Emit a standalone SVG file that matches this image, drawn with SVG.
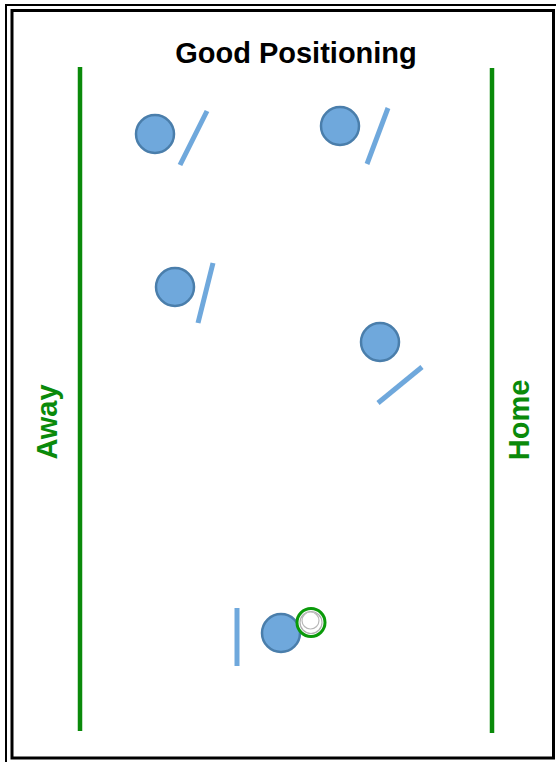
<svg xmlns="http://www.w3.org/2000/svg" width="556" height="762" viewBox="0 0 556 762">
<style>
.player{fill:#6fa8dc;stroke:#4a7eab;stroke-width:2.5}
.stick{stroke:#6fa8dc;stroke-width:5;fill:none}
.side{stroke:#0a8a0a;stroke-width:4.5;fill:none}
.lbl{font-family:"Liberation Sans",Arial,sans-serif;font-weight:bold;font-size:29px;text-anchor:middle}
</style>
<rect width="556" height="762" fill="#ffffff"/>
<g id="frame">
<rect x="6" y="5" width="560" height="770" fill="none" stroke="#000" stroke-width="2"/>
<rect x="12" y="10.5" width="541.5" height="747.5" fill="none" stroke="#000" stroke-width="3"/>
</g>
<g id="title"><text class="lbl" x="296" y="63" fill="#000" font-size="28">Good Positioning</text></g>
<g id="away-line"><line class="side" x1="80" y1="67" x2="80" y2="731"/></g>
<g id="home-line"><line class="side" x1="492" y1="68" x2="492" y2="733"/></g>
<g id="away-label"><text class="lbl" fill="#0a8a0a" transform="translate(57,422) rotate(-90)">Away</text></g>
<g id="home-label"><text class="lbl" fill="#0a8a0a" transform="translate(529,420) rotate(-90)">Home</text></g>
<g id="connectors">
<line class="stick" x1="180" y1="165" x2="207" y2="111"/>
<line class="stick" x1="367" y1="164" x2="388" y2="108"/>
<line class="stick" x1="198" y1="323" x2="213" y2="263"/>
<line class="stick" x1="378" y1="403" x2="422" y2="367"/>
<line class="stick" x1="237" y1="608" x2="237" y2="666"/>
</g>
<g id="player1"><circle class="player" cx="155" cy="134" r="19"/></g>
<g id="player2"><circle class="player" cx="340" cy="126" r="19"/></g>
<g id="player3"><circle class="player" cx="175" cy="287" r="19"/></g>
<g id="player4"><circle class="player" cx="380" cy="342" r="19"/></g>
<g id="player5"><circle class="player" cx="281" cy="633" r="19"/></g>
<g id="ball">
<circle cx="311" cy="622.5" r="14" fill="#fff" stroke="#0a9a0a" stroke-width="3"/>
<circle cx="311" cy="622.5" r="11" fill="#fff" stroke="#b0b0b0" stroke-width="1.2"/>
<circle cx="310.5" cy="620.5" r="8.5" fill="#fff" stroke="#b8b8b8" stroke-width="1.2"/>
</g>
</svg>
